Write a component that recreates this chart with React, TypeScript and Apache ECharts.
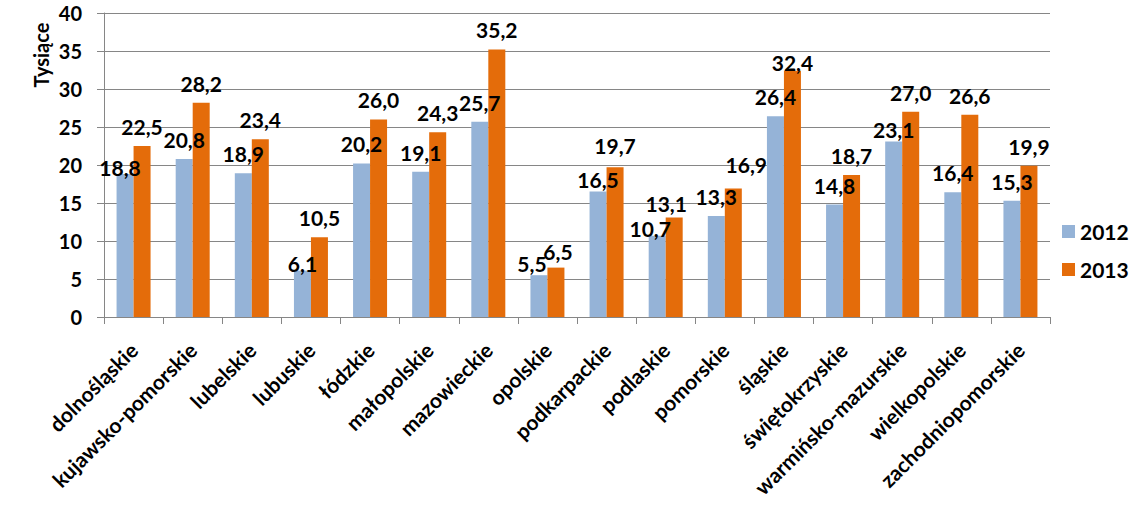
import React, { useEffect, useRef } from "react";
import * as echarts from "echarts";

const categories = [
  "dolnośląskie",
  "kujawsko-pomorskie",
  "lubelskie",
  "lubuskie",
  "łódzkie",
  "małopolskie",
  "mazowieckie",
  "opolskie",
  "podkarpackie",
  "podlaskie",
  "pomorskie",
  "śląskie",
  "świętokrzyskie",
  "warmińsko-mazurskie",
  "wielkopolskie",
  "zachodniopomorskie",
];

const values2012 = [18.8, 20.8, 18.9, 6.1, 20.2, 19.1, 25.7, 5.5, 16.5, 10.7, 13.3, 26.4, 14.8, 23.1, 16.4, 15.3];
const values2013 = [22.5, 28.2, 23.4, 10.5, 26.0, 24.3, 35.2, 6.5, 19.7, 13.1, 16.9, 32.4, 18.7, 27.0, 26.6, 19.9];

const seriesNames = ["2012", "2013"];
const yAxisTitle = "Tysiące";

// label nudges (style only), as in the original layout
const labelOffsets2012 = [
  [-5, 13], [0, 0], [0, 0], [0, 12], [0, 0], [0, 0], [0, 0], [-7, 8],
  [0, 7], [-7, 12], [0, 0], [0, 0], [0, 0], [0, 7.5], [0, 0], [0, 0],
];
const labelOffsets2013 = [
  [0, 0], [0, 0], [0, 0], [0, 0], [0, 0], [0, 0], [0, 0], [2, 3],
  [0, -2], [-8, 6], [13, -5], [0, 11.5], [0, 0], [0, 0], [0, 0], [0, 0],
];

const FONT = "Lato, 'Open Sans', sans-serif";
const GRAY = "#868686";

const fmt = (v: number) => v.toFixed(1).replace(".", ",");

export default function App() {
  const ref = useRef<HTMLDivElement>(null);

  useEffect(() => {
    if (!ref.current) return;
    const chart = echarts.init(ref.current, undefined, { renderer: "svg" });

    const makeData = (vals: number[], offs: number[][]) =>
      vals.map((v, i) => ({
        value: v,
        label: { offset: offs[i] },
      }));

    const labelStyle = {
      show: true,
      position: "top",
      distance: 9,
      fontFamily: FONT,
      fontWeight: "bold",
      fontSize: 21,
      color: "#000",
      formatter: (p: any) => fmt(p.value),
    };

    chart.setOption({
      animation: false,
      textStyle: { fontFamily: FONT },
      grid: { left: 104, right: 93, top: 13, bottom: 190, containLabel: false },
      legend: {
        orient: "vertical",
        left: 1057,
        top: 216,
        itemWidth: 13,
        itemHeight: 13,
        itemGap: 17,
        icon: "rect",
        textStyle: { fontFamily: FONT, fontWeight: "bold", fontSize: 21, color: "#000" },
        data: seriesNames,
      },
      xAxis: {
        type: "category",
        data: categories,
        axisLine: { show: true, lineStyle: { color: GRAY, width: 1 } },
        axisTick: { show: true, length: 7, alignWithLabel: false, lineStyle: { color: GRAY } },
        axisLabel: {
          interval: 0,
          rotate: 45,
          margin: 29,
          fontFamily: FONT,
          fontWeight: "bold",
          fontSize: 21,
          color: "#000",
        },
      },
      yAxis: {
        type: "value",
        min: 0,
        max: 40,
        interval: 5,
        axisLine: { show: true, lineStyle: { color: GRAY, width: 1 } },
        axisTick: { show: true, length: 7, lineStyle: { color: GRAY } },
        splitLine: { show: true, lineStyle: { color: GRAY, width: 1 } },
        axisLabel: {
          margin: 22,
          fontFamily: FONT,
          fontWeight: "bold",
          fontSize: 20,
          color: "#000",
        },
      },
      graphic: [
        {
          type: "text",
          x: 41,
          y: 55,
          rotation: Math.PI / 2,
          style: {
            text: yAxisTitle,
            fontFamily: FONT,
            fontWeight: "bold",
            fontSize: 20,
            fill: "#000",
            textAlign: "center",
            textVerticalAlign: "middle",
          },
        },
      ],
      series: [
        {
          name: seriesNames[0],
          type: "bar",
          barWidth: 17,
          barGap: "0%",
          itemStyle: { color: "#95B3D7" },
          label: labelStyle,
          data: makeData(values2012, labelOffsets2012),
        },
        {
          name: seriesNames[1],
          type: "bar",
          barWidth: 17,
          barGap: "0%",
          itemStyle: { color: "#E46C0A" },
          label: labelStyle,
          data: makeData(values2013, labelOffsets2013),
        },
      ],
    });

    return () => chart.dispose();
  }, []);

  return <div ref={ref} style={{ width: 1143, height: 507, position: "absolute", left: 0, top: 0 }} />;
}
